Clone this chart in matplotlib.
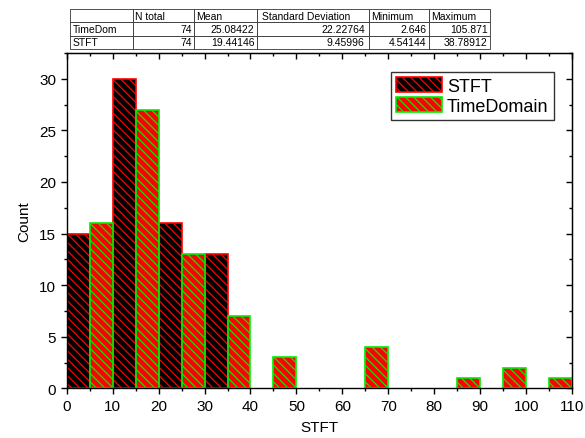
import matplotlib
matplotlib.use("Agg")
import matplotlib.pyplot as plt
from matplotlib.ticker import MultipleLocator

plt.rcParams['font.family'] = ['Liberation Sans', 'DejaVu Sans']
plt.rcParams['hatch.linewidth'] = 0.9

# Histogram counts (bin width 5)
stft_left = [0, 10, 20, 30]
stft_counts = [15, 30, 16, 13]
td_left = [5, 15, 25, 35, 45, 65, 85, 95, 105]
td_counts = [16, 27, 13, 7, 3, 4, 1, 2, 1]
bin_width = 5

# Summary statistics table
col_labels = ['', 'N total', 'Mean', 'Standard Deviation', 'Minimum', 'Maximum']
row_names = ['TimeDom', 'STFT']
n_total = ['74', '74']
means = ['25.08422', '19.44146']
stdevs = ['22.22764', '9.45996']
minimums = ['2.646', '4.54144']
maximums = ['105.871', '38.78912']

fig = plt.figure(figsize=(5.85, 4.39), dpi=100)
ax = fig.add_axes([0.114, 0.1132, 0.864, 0.764])

hatch = '\\' * 4
ax.bar(stft_left, stft_counts, width=bin_width, align='edge', color='black',
       edgecolor='#ff0000', hatch=hatch, linewidth=1.2, label='STFT')
ax.bar(td_left, td_counts, width=bin_width, align='edge', color='#ff0000',
       edgecolor='#00ee00', hatch=hatch, linewidth=1.2, label='TimeDomain')

ax.set_xlim(0, 110)
ax.set_ylim(0, 32.5)
ax.xaxis.set_major_locator(MultipleLocator(10))
ax.xaxis.set_minor_locator(MultipleLocator(5))
ax.yaxis.set_major_locator(MultipleLocator(5))
ax.yaxis.set_minor_locator(MultipleLocator(2.5))
ax.tick_params(which='both', direction='out', labelsize=11, width=1)
ax.tick_params(which='major', length=4)
ax.tick_params(which='minor', length=2.5)
ax.set_xlabel('STFT', fontsize=11, labelpad=5)
ax.set_ylabel('Count', fontsize=11, labelpad=6)
for s in ax.spines.values():
    s.set_linewidth(1.0)

# inward ticks on the top and right frame
top = ax.secondary_xaxis('top')
right = ax.secondary_yaxis('right')
for sec, loc_maj, loc_min in [(top, 10, 5), (right, 5, 2.5)]:
    axis = sec.xaxis if sec is top else sec.yaxis
    axis.set_major_locator(MultipleLocator(loc_maj))
    axis.set_minor_locator(MultipleLocator(loc_min))
    sec.tick_params(which='both', direction='in', labeltop=False, labelright=False, width=1)
    sec.tick_params(which='major', length=4)
    sec.tick_params(which='minor', length=2.5)

leg = ax.legend(loc='upper right', bbox_to_anchor=(0.964, 0.943), fontsize=13,
                frameon=True, fancybox=False, borderaxespad=0, handlelength=2.5,
                handleheight=0.9, handletextpad=0.3, borderpad=0.3, labelspacing=0.1)
leg.get_frame().set_edgecolor('black')
leg.get_frame().set_linewidth(1.0)

# statistics table above the plot
tax = fig.add_axes([0.1197, 0.886, 0.718, 0.0911])
tax.axis('off')
cells = [col_labels[1:]]
for i in range(len(row_names)):
    cells.append([n_total[i], means[i], stdevs[i], minimums[i], maximums[i]])
rows = [''] + row_names
widths = [62.7, 61.3, 63, 112, 60, 61]
tot = sum(widths)
table_text = [[rows[r]] + cells[r] for r in range(3)]
tbl = tax.table(cellText=table_text, bbox=[0, 0, 1, 1], cellLoc='right',
                colWidths=[w / tot for w in widths])
tbl.auto_set_font_size(False)
tbl.set_fontsize(7.5)
for (r, c), cell in tbl.get_celld().items():
    cell.set_linewidth(0.6)
    cell.set_edgecolor('#333333')
    cell.PAD = 0.04
    if r == 0 or c == 0:
        cell.get_text().set_ha('left')
        cell._loc = 'left'

fig.savefig('out.png', dpi=100)
